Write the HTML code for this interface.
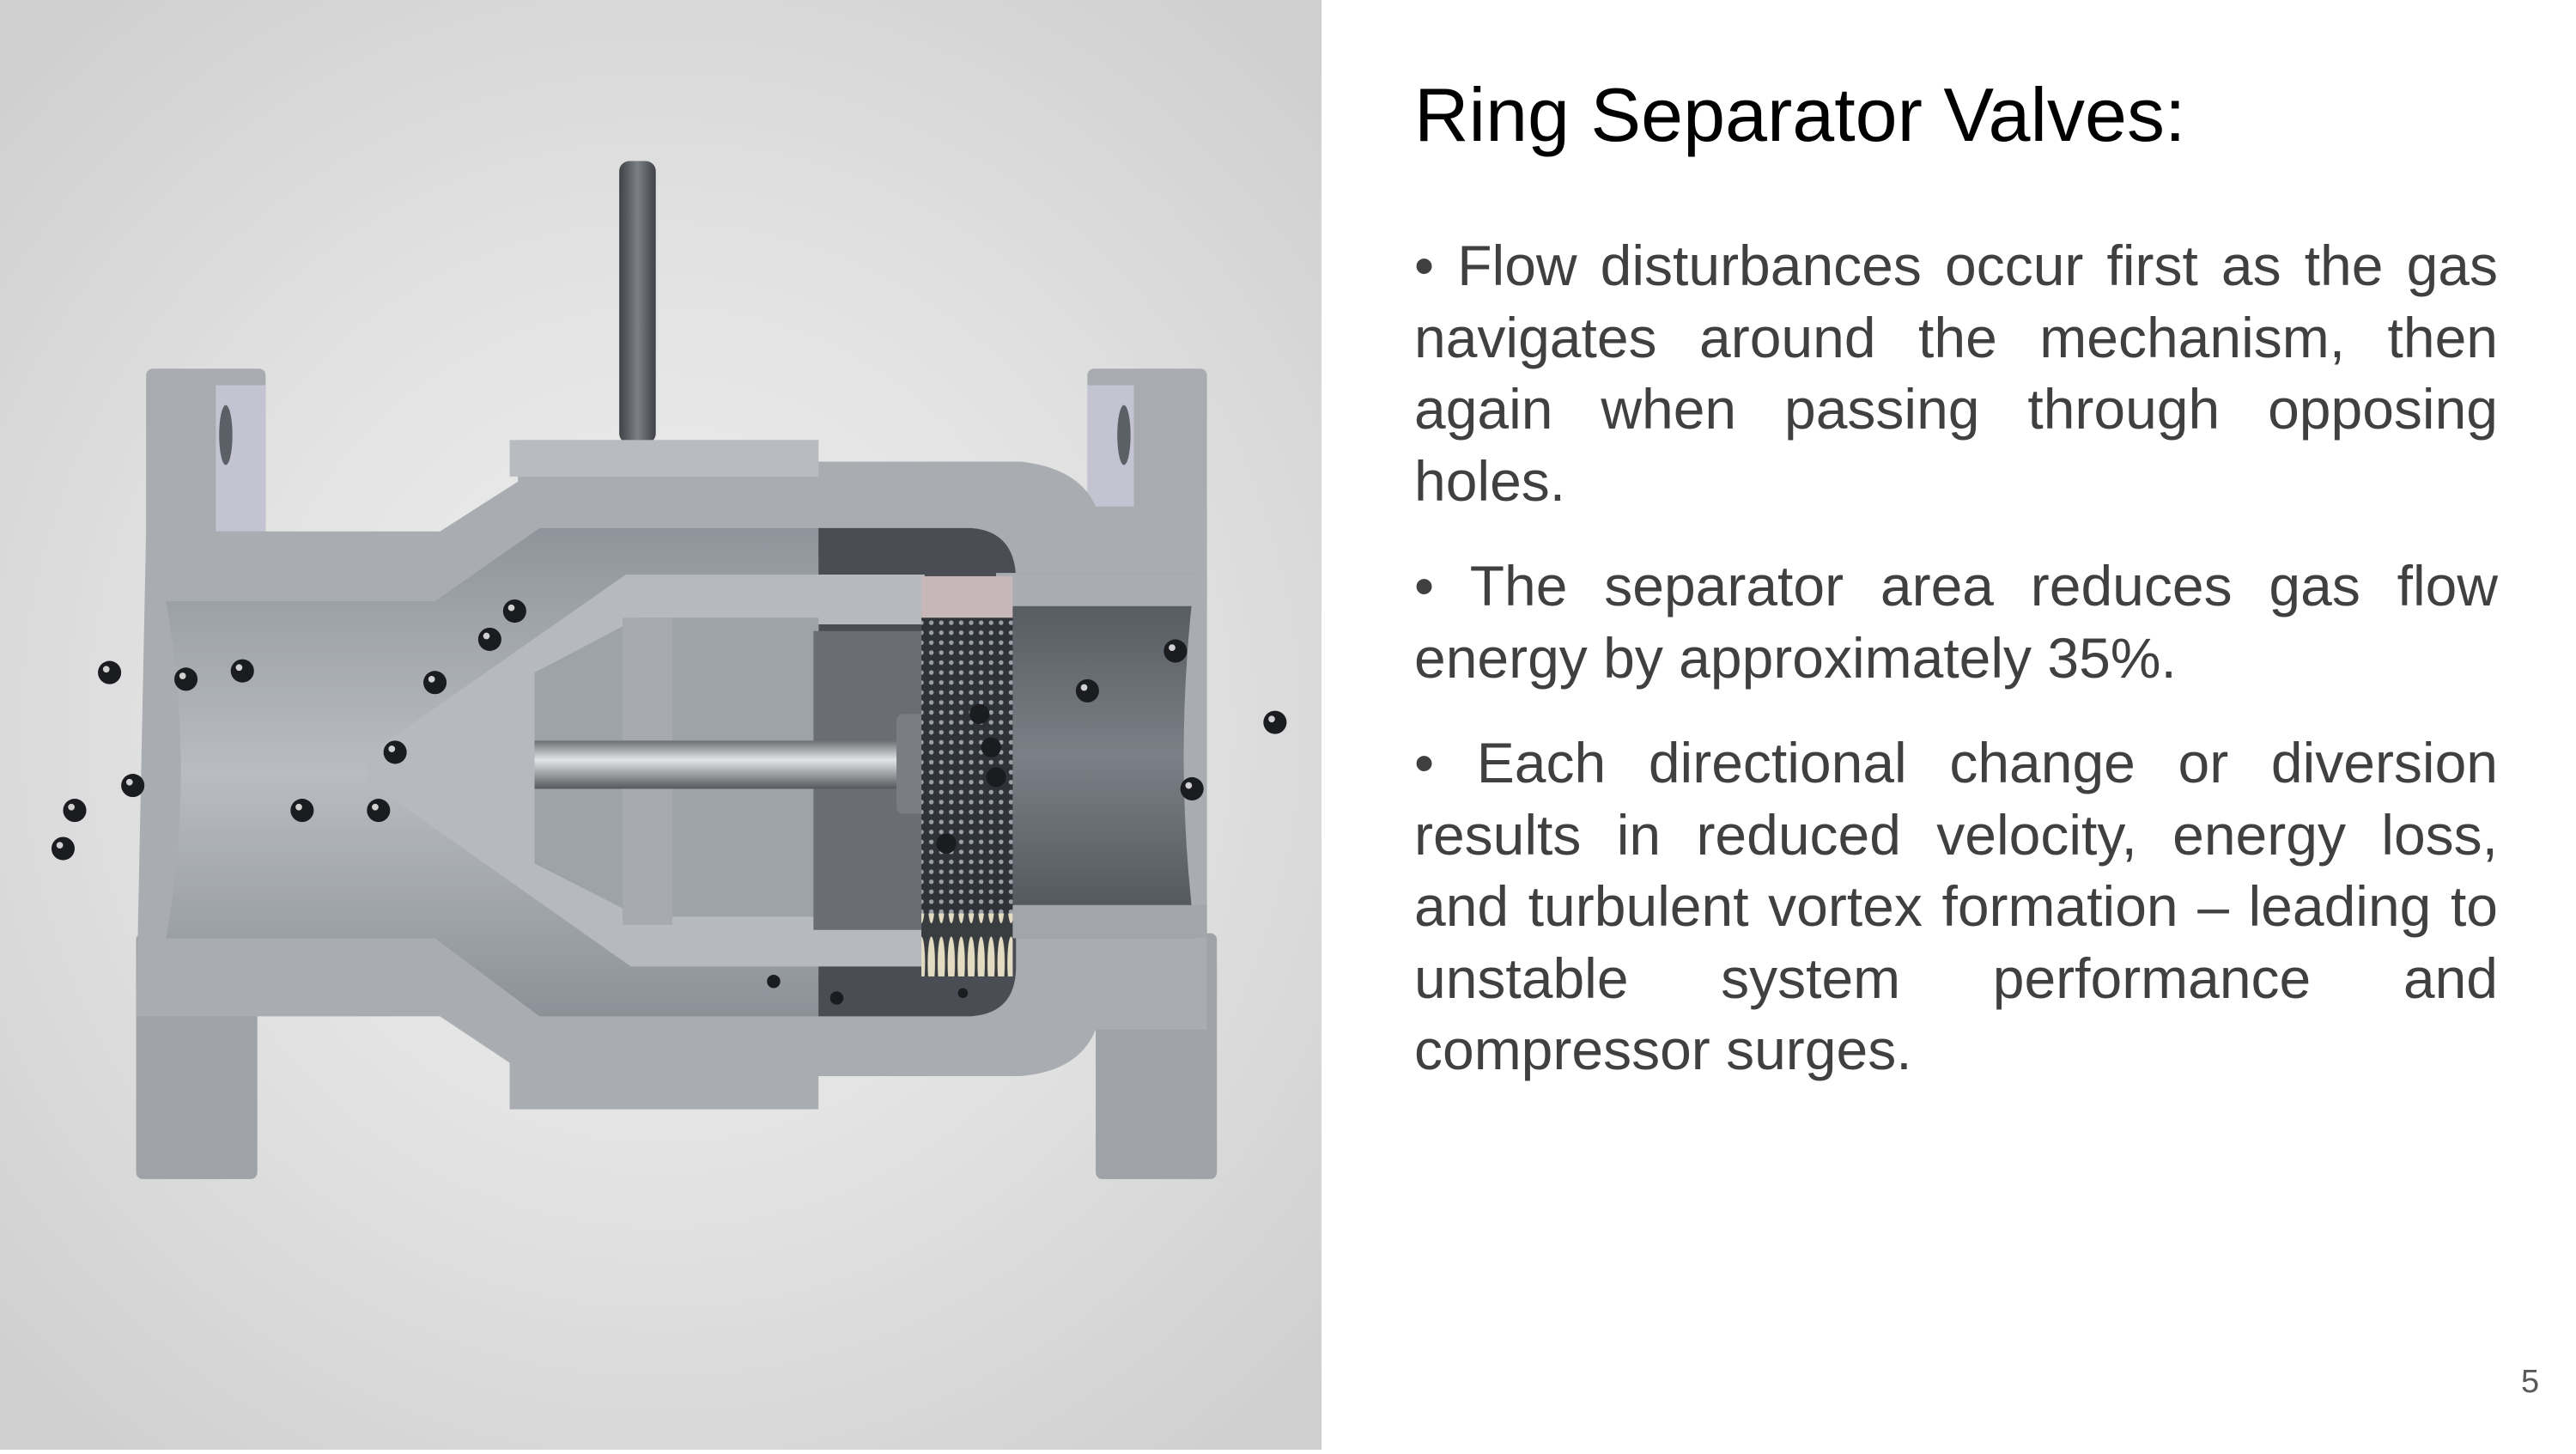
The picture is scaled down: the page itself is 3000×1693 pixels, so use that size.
<!DOCTYPE html>
<html><head><meta charset="utf-8"><style>
html,body{margin:0;padding:0}
body{width:3000px;height:1688px;position:relative;background:#fff;overflow:hidden;font-family:"Liberation Sans",Arial,sans-serif}
#left{position:absolute;left:0;top:0;width:1539px;height:1688px;background:radial-gradient(ellipse 70% 65% at 50% 50%,#efefef 0%,#e2e2e2 50%,#cfcfcf 100%)}
#title{position:absolute;left:1647px;top:84px;font-size:88px;color:#000;line-height:100px;white-space:nowrap}
#txt{position:absolute;left:1647px;top:268px;width:1262px;font-size:66px;line-height:83.5px;color:#404040;text-align:justify}
#txt p{margin:0 0 39px 0}
#pg{position:absolute;left:2936px;top:1588px;font-size:38px;color:#595959}
</style></head><body>
<div id="left">
<svg width="1539" height="1688" viewBox="0 0 796 873" preserveAspectRatio="none">
<defs>
<linearGradient id="pipeL" x1="0" y1="0" x2="0" y2="1"><stop offset="0" stop-color="#8f949b"/><stop offset=".5" stop-color="#b9bdc2"/><stop offset="1" stop-color="#8c9198"/></linearGradient>
<linearGradient id="pipeR" x1="0" y1="0" x2="0" y2="1"><stop offset="0" stop-color="#4f545a"/><stop offset=".5" stop-color="#7b8087"/><stop offset="1" stop-color="#4c5157"/></linearGradient>
<linearGradient id="shaft" x1="0" y1="0" x2="0" y2="1"><stop offset="0" stop-color="#6b6e72"/><stop offset=".4" stop-color="#e3e4e6"/><stop offset="1" stop-color="#55585c"/></linearGradient>
<linearGradient id="stem" x1="0" y1="0" x2="1" y2="0"><stop offset="0" stop-color="#3f4246"/><stop offset=".5" stop-color="#7c8085"/><stop offset="1" stop-color="#3f4246"/></linearGradient>
<pattern id="mesh" width="6" height="6" patternUnits="userSpaceOnUse"><rect width="6" height="6" fill="#2f3338"/><circle cx="3" cy="3" r="1.4" fill="#9aa0a8"/></pattern>
<pattern id="teeth" width="6" height="40" patternUnits="userSpaceOnUse"><rect width="6" height="40" fill="#3a3d40"/><ellipse cx="3" cy="20" rx="2.2" ry="16" fill="#e3dcc3"/></pattern>
</defs>
<!-- stem -->
<rect x="373" y="97" width="22" height="170" rx="6" fill="url(#stem)"/>
<!-- flanges -->
<rect x="88" y="222" width="72" height="145" rx="4" fill="#a8acb1"/>
<rect x="130" y="232" width="30" height="88" fill="#c3c3d2"/>
<ellipse cx="136" cy="262" rx="4" ry="18" fill="#5b5f66"/>
<rect x="655" y="222" width="72" height="145" rx="4" fill="#a8acb1"/>
<rect x="655" y="232" width="28" height="88" fill="#c3c3d2"/>
<ellipse cx="677" cy="262" rx="4" ry="18" fill="#5b5f66"/>
<rect x="82" y="562" width="73" height="148" rx="4" fill="#9fa3a8"/>
<rect x="660" y="562" width="73" height="148" rx="4" fill="#9fa3a8"/>
<!-- main body -->
<path d="M88,320 L265,320 L312,290 L312,265 L493,265 L493,278 L615,278 Q650,282 660,305 L727,305 L727,620 L660,620 Q650,645 615,648 L493,648 L493,668 L307,668 L307,640 L265,612 L82,612 Z" fill="#a9adb2"/>
<rect x="307" y="265" width="186" height="22" fill="#b8bcc0"/>
<!-- passage -->
<path d="M100,362 L262,362 L325,318 L493,318 L493,612 L325,612 L262,565 L100,565 Q118,465 100,362 Z" fill="url(#pipeL)"/>
<!-- right cavity -->
<path d="M493,318 L585,318 Q612,320 612,350 L612,582 Q612,610 585,612 L493,612 Z" fill="#4a4e54"/>
<path d="M600,345 L720,345 Q706,455 720,565 L600,565 Z" fill="url(#pipeR)"/>
<rect x="600" y="345" width="127" height="20" fill="#a9adb2"/>
<rect x="600" y="545" width="127" height="20" fill="#a2a6ab"/>
<!-- guide -->
<path d="M377,346 L557,346 L557,376 L493,376 L493,552 L557,552 L557,582 L380,582 L221,470 L221,455 Z" fill="#b6babf"/>
<path d="M385,372 L493,372 L493,552 L385,552 L322,520 L322,405 Z" fill="#9ea3a9"/>
<rect x="375" y="372" width="30" height="185" fill="#a7abb0"/>
<rect x="490" y="380" width="65" height="180" fill="#6a6e73"/>
<rect x="322" y="446" width="226" height="29" fill="url(#shaft)"/>
<rect x="540" y="430" width="25" height="60" rx="4" fill="#7a7e83"/>
<!-- separator -->
<rect x="555" y="370" width="55" height="180" fill="url(#mesh)"/>
<rect x="555" y="347" width="55" height="25" fill="#c8b7b9"/>
<rect x="555" y="550" width="55" height="38" fill="url(#teeth)"/>
<!-- balls -->
<g fill="#1a1c1f">
<circle cx="66" cy="405" r="7"/><circle cx="112" cy="409" r="7"/><circle cx="146" cy="404" r="7"/>
<circle cx="80" cy="473" r="7"/><circle cx="45" cy="488" r="7"/><circle cx="38" cy="511" r="7"/>
<circle cx="182" cy="488" r="7"/><circle cx="228" cy="488" r="7"/><circle cx="238" cy="453" r="7"/>
<circle cx="262" cy="411" r="7"/><circle cx="295" cy="385" r="7"/><circle cx="310" cy="368" r="7"/>
<circle cx="655" cy="416" r="7"/><circle cx="708" cy="392" r="7"/><circle cx="718" cy="475" r="7"/>
<circle cx="768" cy="435" r="7"/><circle cx="590" cy="430" r="6"/><circle cx="597" cy="450" r="6"/>
<circle cx="600" cy="468" r="6"/><circle cx="570" cy="508" r="6"/><circle cx="466" cy="591" r="4"/>
<circle cx="504" cy="601" r="4"/><circle cx="580" cy="598" r="3"/>
</g>
<g fill="#fff" opacity=".8">
<circle cx="64" cy="403" r="2"/><circle cx="110" cy="407" r="2"/><circle cx="144" cy="402" r="2"/>
<circle cx="78" cy="471" r="2"/><circle cx="43" cy="486" r="2"/><circle cx="36" cy="509" r="2"/>
<circle cx="180" cy="486" r="2"/><circle cx="226" cy="486" r="2"/><circle cx="236" cy="451" r="2"/>
<circle cx="260" cy="409" r="2"/><circle cx="293" cy="383" r="2"/><circle cx="308" cy="366" r="2"/>
<circle cx="653" cy="414" r="2"/><circle cx="706" cy="390" r="2"/><circle cx="716" cy="473" r="2"/>
<circle cx="766" cy="433" r="2"/>
</g>
</svg>
</div>
<div id="title">Ring Separator Valves:</div>
<div id="txt">
<p>• Flow disturbances occur first as the gas navigates around the mechanism, then again when passing through opposing holes.</p>
<p>• The separator area reduces gas flow energy by approximately 35%.</p>
<p>• Each directional change or diversion results in reduced velocity, energy loss, and turbulent vortex formation – leading to unstable system performance and compressor surges.</p>
</div>
<div id="pg">5</div>
</body></html>
